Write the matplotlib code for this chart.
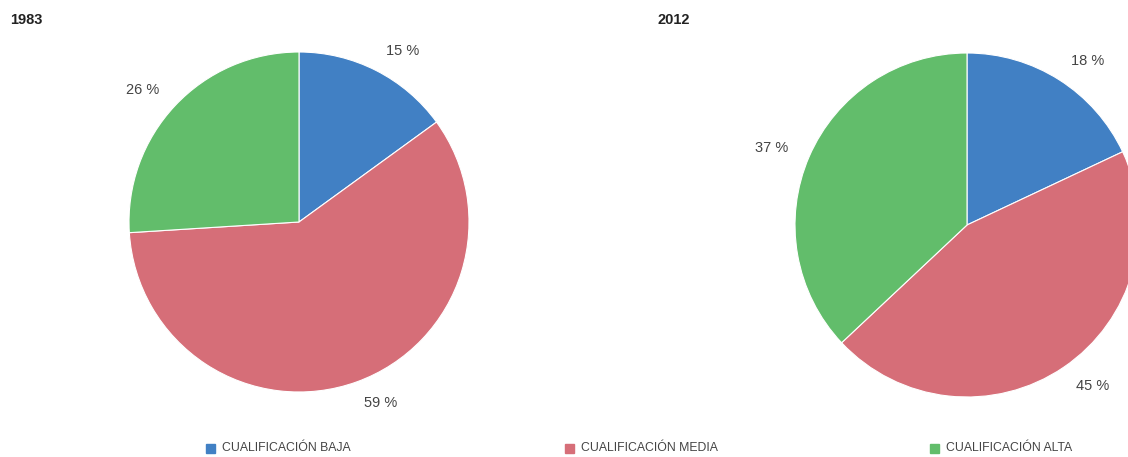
import matplotlib.pyplot as plt
from matplotlib.patches import Rectangle

# Distribución del empleo por nivel de cualificación
categorias = ['CUALIFICACIÓN BAJA', 'CUALIFICACIÓN MEDIA', 'CUALIFICACIÓN ALTA']
valores_1983 = [15, 59, 26]
valores_2012 = [18, 45, 37]
colores = ['#4180C4', '#D66E78', '#62BD6B']

W, H = 1128, 457
fig = plt.figure(figsize=(W / 100, H / 100), dpi=100)
fig.patch.set_facecolor('white')
fuente = ['Liberation Sans', 'DejaVu Sans']


def pie_axes(cx, cy, r):
    # caja en pixeles -> fraccion de figura
    return fig.add_axes([(cx - r) / W, (H - cy - r) / H, 2 * r / W, 2 * r / H])


def dibuja(ax, valores):
    ax.pie(valores, colors=colores, startangle=90, counterclock=False,
           labels=[f'{v} %' for v in valores], labeldistance=1.13,
           wedgeprops=dict(edgecolor='white', linewidth=0.8),
           textprops=dict(fontsize=10.5, color='#444444', family=fuente))
    ax.set_xlim(-1, 1)
    ax.set_ylim(-1, 1)
    ax.set_aspect('equal')
    ax.axis('off')


ax1 = pie_axes(299, 222, 170)
dibuja(ax1, valores_1983)
ax2 = pie_axes(967, 225, 172)
dibuja(ax2, valores_2012)

fig.text(10 / W, 1 - 20 / H, '1983', fontsize=10.5, fontweight='bold',
         family=fuente, color='#222222', va='center', ha='left')
fig.text(658 / W, 1 - 20 / H, '2012', fontsize=10.5, fontweight='bold',
         family=fuente, color='#222222', va='center', ha='left')

# leyenda
leg_x = [206, 565, 930]
leg_y = 448
for x, cat, col in zip(leg_x, categorias, colores):
    fig.patches.append(Rectangle((x / W, (H - leg_y - 5) / H), 9 / W, 9 / H,
                                 transform=fig.transFigure, color=col))
    fig.text((x + 16) / W, 1 - leg_y / H, cat, fontsize=8.8, family=fuente,
             color='#444444', va='center', ha='left')

fig.savefig('out.png', dpi=100)
